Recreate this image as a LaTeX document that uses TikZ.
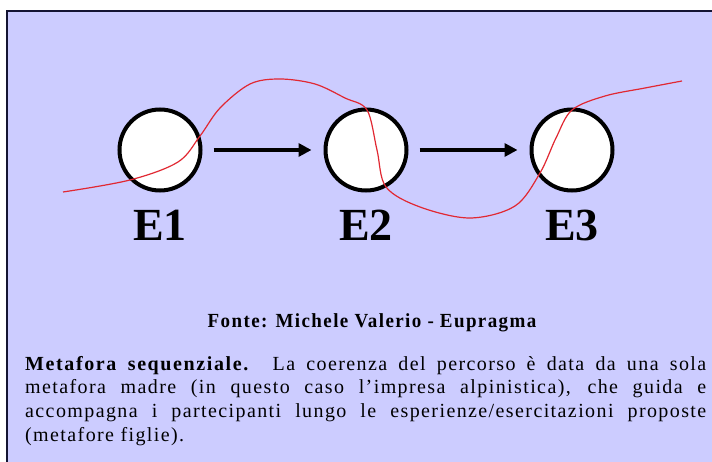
\documentclass[tikz,border=0pt]{standalone}
\usepackage{fontspec}
\setmainfont{Liberation Serif}
\newfontfamily\sourcefont[LetterSpace=7,FakeStretch=0.95]{Liberation Serif Bold}
\newfontfamily\bodyfont[LetterSpace=7,BoldFeatures={LetterSpace=8}]{Liberation Serif}
\usetikzlibrary{arrows.meta,positioning}
\tikzset{>={Triangle[length=13pt,width=13pt]}}
\definecolor{lavender}{RGB}{204,204,255}
\definecolor{framecol}{RGB}{20,20,50}
\definecolor{pathred}{RGB}{225,40,50}
\tikzset{
  stage/.style={circle,draw=black,fill=white,line width=4pt,minimum size=81pt,inner sep=0pt},
  stagelabel/.style={font=\fontsize{46}{46}\selectfont\bfseries,inner sep=0pt},
  flow/.style={->,line width=4.5pt,shorten <=11pt,shorten >=12pt}
}

\begin{document}
\begin{tikzpicture}[x=1pt,y=-1pt]
				\useasboundingbox (0,0) rectangle (712,462);
				\fill[white] (0,0) rectangle (712,462);
				\draw[framecol,fill=lavender,line width=1.5pt] (7,11) rectangle (720,470);
				
				\node [stage] (e1) at (160,150) {};
				\node [stage] (e2) at (366,150) {};
				\node [stage] (e3) at (572,150) {};
				\node [stagelabel,below=17pt of e1] (l1) {E1};
				\node [stagelabel,below=17pt of e2] (l2) {E2};
				\node [stagelabel,below=17pt of e3] (l3) {E3};
				\draw [flow] (e1) -- (e2);
				\draw [flow] (e2) -- (e3);
				
				% percorso
				\draw [pathred,line width=1.2pt] plot[smooth,tension=0.55] coordinates
				  {(63,192) (130,180) (178,162) (200,136) (220,108) (250,84) (280,79)
				   (315,84) (345,98) (367,110) (377,150) (386,187) (420,207) (470,218)
				   (515,206) (540,173) (556,138) (572,110) (605,96) (645,88) (682,81)};
				
				\node [font=\sourcefont\fontsize{20}{22}\selectfont] (src) at (372,323) {Fonte: Michele Valerio - Eupragma};
				\node [anchor=north west,text width=681pt,align=justify,inner sep=0pt,
				       font=\bodyfont\fontsize{20}{23.7}\selectfont] (txt) at (25,356)
				  {\textbf{Metafora sequenziale.} La coerenza del percorso è data da una sola\linebreak
				   metafora madre (in questo caso l’impresa alpinistica), che guida e\linebreak
				   accompagna i partecipanti lungo le esperienze/esercitazioni proposte\linebreak
				   (metafore figlie).};
\end{tikzpicture}
\end{document}
